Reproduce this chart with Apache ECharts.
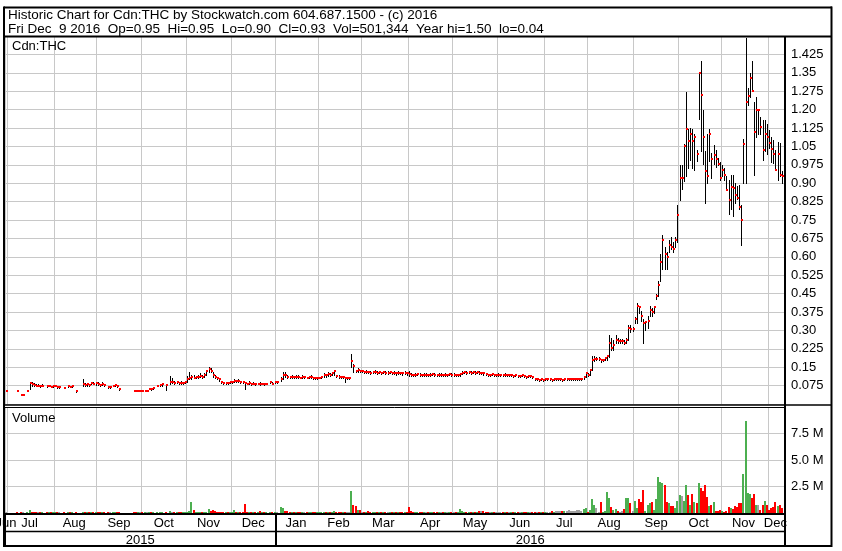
<!DOCTYPE html>
<html>
<head>
<meta charset="utf-8">
<title>Cdn:THC</title>
<script src="https://cdn.jsdelivr.net/npm/echarts@6/dist/echarts.min.js"></script>
<style>
  html, body { margin: 0; padding: 0; background: #fff; }
  #chart { width: 842px; height: 551px; }
</style>
</head>
<body>
<div id="chart"></div>
<script>
// trading calendar (TSX-V)
const firstDay = '2015-06-30'
const lastDay = '2016-12-09'
const padDays = ['2016-12-12']
const holidays = ['2015-07-01', '2015-08-03', '2015-09-07', '2015-10-12', '2015-12-25', '2015-12-28',
  '2016-01-01', '2016-02-15', '2016-03-25', '2016-05-23', '2016-07-01', '2016-08-01', '2016-09-05', '2016-10-10']

const monthNames = ['Jan', 'Feb', 'Mar', 'Apr', 'May', 'Jun', 'Jul', 'Aug', 'Sep', 'Oct', 'Nov', 'Dec']
const priceLabels = ['0.075', '0.15', '0.225', '0.30', '0.375', '0.45', '0.525', '0.60', '0.675', '0.75',
  '0.825', '0.90', '0.975', '1.05', '1.125', '1.20', '1.275', '1.35', '1.425']
const volLabels = ['2.5 M', '5.0 M', '7.5 M']

// daily closes, one per trading day (null = no trade)
const closes = [
  .055,
  null, null, null, null, .052, null, .038, .038, null, .055, .085, .08, .078, .075, .075, .072, .075, null, .072, .075, .07, .072,
  .075, .068, .068, null, .065, null, .072, .07, .072, null, .055, null, null, .082, .078, .08, .078, .085, .082, .085,
  .08, .078, .08, .078, null, .068, .068, .075, .078, .072, .06, null, null, null, null, null, null, .055, .053, .055, .055,
  .053, .055, .055, .062, .06, .064, null, .075, .078, .08, null, .078, null, .09, .09, .086, .088, .086, .085, .086, .088,
  .10, .105, .11, .108, .11, .112, .115, .112, .118, .135, .143, .135, .12, .11, .105, .10, .088, .085, .086, .085, .088,
  .09, .095, .092, .095, .09, .088, .085, .082, .085, .08, .082, .08, .082, .08, .083, .08, .082, null, .09, .082, .09,
  .09, null, .10, .12, .118, .112, .11, .112, .11, .112, .11, .108, .11, .11, .108, .11, .112, .105, .104, .106,
  .108, .11, .12, .118, .122, .12, .125, .135, .115, .112, .11, .112, .105, .105, .105, .175, .155, .135, .138, .135,
  .135, .13, .132, .13, .128, .13, .132, .128, .13, .126, .13, .128, .128, .13, .126, .128, .125, .128, .126, .125, .128, .125,
  .122, .12, .118, .12, .122, .12, .118, .12, .12, .118, .12, .122, .12, .118, .12, .12, .118, .12, .12, .122, .12,
  .12, .118, .12, .122, .128, .13, .128, .13, .128, .13, .128, .13, .128, .128, .125, .122, .12, .12, .122, .12, .12,
  .12, .12, .118, .12, .118, .118, .12, .115, .118, .115, .115, .118, .115, .112, .115, .115, .112, .10, .10, .098, .10, .098,
  .10, .10, .10, .098, .10, .10, .10, .10, .098, .10, .10, .10, .10, .10, .10, .10, .10, .10, .11, .125,
  .12, .137, .18, .185, .185, .185, .178, .18, .187, .196, .25, .227, .24, .26, .255, .255, .255, .25, .262, .31, .305, .305,
  .345, .40, .394, .36, .33, .335, .34, .385, .377, .394, .44, .485, .58, .67, .61, .60, .65, .64, .63, .668, .77,
  .92, .92, 1.05, 1.12, 1.07, 1.10, 1.07, 1.09, 1.02, 1.35, 1.26, 1.09, .95, .93, 1.10, 1.0, 1.015, .998, .98, .92,
  .955, .935, .874, .831, .885, .88, .851, .84, .803, .75, 1.059, 1.23, 1.257, 1.33, 1.277, 1.109, 1.197, 1.197, 1.13, 1.035, 1.10, 1.089,
  1.062, 1.04, 1.019, .955, 1.02, .932, .93
]

const highs = [
  .055,
  null, null, null, null, .052, null, .04, .04, null, .055, .09, .09, .085, .082, .08, .075, .08, null, .075, .078, .075, .075,
  .078, .07, .07, null, .068, null, .075, .072, .075, null, .058, null, null, .10, .085, .085, .08, .09, .09, .09,
  .09, .08, .09, .082, null, .07, .07, .078, .08, .075, .062, null, null, null, null, null, null, .055, .055, .056, .056,
  .055, .056, .056, .064, .062, .066, null, .078, .08, .082, null, .08, null, .113, .105, .095, .095, .09, .093, .09, .092,
  .115, .132, .12, .12, .115, .12, .125, .12, .125, .14, .15, .145, .13, .12, .11, .105, .095, .09, .09, .09, .095,
  .095, .10, .096, .10, .095, .092, .09, .086, .092, .085, .09, .084, .085, .09, .086, .085, .085, null, .095, .088, .093,
  .093, null, .11, .13, .13, .12, .115, .12, .115, .118, .12, .112, .12, .115, .112, .115, .12, .11, .108, .11,
  .112, .115, .125, .122, .13, .125, .128, .14, .12, .118, .115, .116, .11, .108, .11, .205, .165, .14, .145, .14,
  .14, .136, .138, .135, .133, .136, .14, .134, .136, .132, .136, .133, .134, .136, .132, .134, .13, .134, .132, .13, .134, .13,
  .135, .125, .122, .126, .128, .125, .122, .125, .125, .122, .126, .128, .125, .122, .125, .126, .122, .125, .124, .128, .125,
  .125, .122, .124, .124, .135, .136, .134, .135, .134, .136, .133, .135, .134, .132, .13, .126, .124, .124, .126, .124, .124,
  .125, .124, .122, .125, .122, .122, .124, .12, .122, .12, .12, .122, .12, .116, .12, .12, .116, .105, .104, .102, .104, .102,
  .104, .104, .104, .102, .105, .104, .104, .104, .102, .104, .105, .104, .104, .105, .104, .104, .105, .104, .115, .13,
  .125, .14, .196, .195, .19, .19, .185, .185, .19, .20, .28, .27, .26, .28, .27, .265, .265, .26, .27, .32, .32, .315,
  .356, .41, .40, .38, .345, .34, .36, .40, .39, .40, .45, .50, .61, .69, .64, .62, .67, .68, .66, .68, .81,
  .975, .975, 1.06, 1.27, 1.12, 1.125, 1.12, 1.10, 1.035, 1.35, 1.40, 1.20, 1.03, 1.10, 1.12, 1.022, 1.055, 1.035, 1.002, .988,
  .975, .961, .928, .914, .934, .934, .901, .887, .894, .81, 1.082, 1.49, 1.29, 1.35, 1.40, 1.23, 1.25, 1.20, 1.17, 1.156, 1.156, 1.143,
  1.116, 1.089, 1.076, 1.035, 1.069, 1.062, .95
]

const lows = [
  .055,
  null, null, null, null, .052, null, .038, .036, null, .055, .06, .075, .075, .072, .072, .07, .072, null, .07, .072, .068, .07,
  .072, .065, .066, null, .065, null, .07, .068, .07, null, .048, null, null, .075, .075, .075, .075, .08, .08, .078,
  .078, .075, .078, .075, null, .066, .066, .072, .075, .07, .058, null, null, null, null, null, null, .053, .052, .053, .053,
  .052, .053, .053, .06, .058, .06, null, .072, .075, .075, null, .058, null, .08, .085, .083, .085, .083, .082, .083, .085,
  .088, .10, .10, .105, .105, .108, .11, .108, .11, .12, .13, .13, .11, .105, .10, .095, .085, .082, .082, .082, .084,
  .087, .09, .09, .09, .087, .085, .06, .08, .08, .078, .08, .078, .08, .078, .08, .078, .08, null, .085, .08, .085,
  .085, null, .095, .10, .11, .108, .105, .106, .105, .108, .105, .104, .105, .106, .104, .106, .108, .10, .10, .102,
  .105, .106, .112, .112, .116, .115, .118, .12, .11, .108, .105, .108, .09, .10, .10, .15, .13, .13, .13, .13,
  .13, .126, .128, .126, .124, .126, .128, .124, .126, .122, .126, .124, .124, .126, .122, .124, .12, .124, .122, .12, .124, .12,
  .115, .116, .114, .116, .118, .116, .114, .116, .116, .114, .116, .118, .116, .114, .116, .116, .114, .116, .116, .118, .116,
  .116, .114, .116, .116, .122, .125, .124, .125, .124, .125, .124, .125, .124, .124, .12, .118, .116, .116, .118, .116, .116,
  .116, .116, .114, .116, .114, .114, .116, .11, .114, .11, .11, .114, .11, .108, .11, .11, .108, .096, .096, .094, .096, .094,
  .096, .096, .096, .094, .096, .096, .096, .096, .094, .096, .096, .096, .096, .096, .096, .096, .096, .096, .10, .11,
  .115, .12, .14, .175, .178, .178, .172, .175, .18, .18, .19, .22, .22, .25, .248, .248, .25, .245, .25, .26, .295, .298,
  .33, .33, .37, .34, .25, .30, .31, .36, .36, .37, .43, .44, .50, .55, .55, .55, .62, .63, .62, .64, .66,
  .83, .875, .91, .93, .96, .995, .96, .955, .99, 1.16, 1.03, .98, .82, .90, .99, .921, .98, .968, .975, .914,
  .928, .914, .874, .773, .793, .766, .82, .834, .793, .648, .901, .90, 1.217, 1.25, 1.277, .935, 1.089, 1.102, 1.10, .995, 1.03, 1.02,
  1.042, .988, .981, .955, .914, .928, .90
]

// daily volume, thousands of shares
const volumes = [
  20,
  0, 0, 0, 0, 30, 0, 40, 30, 0, 20, 300, 80, 50, 60, 40, 30, 50, 0, 30, 40, 20, 30,
  30, 20, 25, 0, 20, 0, 30, 20, 30, 0, 40, 0, 0, 60, 50, 40, 30, 40, 30, 40,
  50, 40, 60, 30, 0, 40, 30, 30, 40, 20, 50, 0, 0, 0, 0, 0, 0, 30, 20, 30, 20,
  40, 30, 20, 50, 30, 40, 0, 40, 30, 60, 0, 50, 0, 150, 80, 60, 50, 40, 60, 50, 40,
  100, 150, 1000, 300, 80, 60, 80, 120, 60, 100, 350, 150, 250, 200, 80, 60, 50, 40, 60, 50, 80,
  60, 300, 100, 50, 120, 60, 850, 100, 60, 80, 50, 60, 80, 150, 60, 50, 60, 0, 80, 40, 60,
  50, 0, 550, 450, 200, 150, 60, 80, 50, 80, 60, 50, 70, 50, 60, 80, 50, 60, 100, 80,
  60, 80, 100, 60, 80, 60, 80, 150, 60, 50, 60, 50, 40, 60, 60, 2100, 750, 650, 250, 300,
  120, 100, 80, 150, 100, 80, 60, 100, 60, 80, 50, 60, 80, 100, 60, 80, 60, 50, 60, 100, 80, 60,
  600, 150, 80, 100, 60, 80, 60, 50, 60, 80, 60, 50, 60, 50, 60, 80, 50, 60, 50, 80, 60,
  60, 50, 80, 400, 150, 80, 60, 100, 60, 50, 60, 80, 150, 200, 180, 120, 100, 80, 60, 80, 60,
  60, 50, 80, 60, 100, 50, 60, 80, 50, 60, 80, 50, 60, 100, 60, 50, 60, 80, 120, 60, 80, 50,
  60, 80, 100, 150, 120, 200, 180, 220, 200, 150, 180, 250, 200, 150, 200, 300, 250, 200, 350, 500,
  100, 300, 1300, 800, 500, 100, 1000, 100, 150, 2000, 1400, 550, 300, 400, 150, 100, 200, 350, 1400, 1400, 950, 200,
  1100, 500, 1300, 1050, 2200, 150, 800, 950, 1050, 300, 1300, 3350, 2900, 2800, 2600, 1000, 900, 700, 650, 500, 1100,
  1700, 1600, 1100, 2600, 1700, 750, 1800, 1000, 950, 2850, 2400, 2100, 2600, 1500, 650, 800, 1000, 200, 200, 300,
  150, 100, 200, 600, 500, 400, 700, 600, 900, 900, 3700, 8700, 1850, 1800, 1400, 1800, 800, 800, 300, 800, 1100, 800,
  300, 500, 600, 1000, 700, 750, 501
]

const font = '"Liberation Sans", Arial, sans-serif'
const gridColor = '#c8c8c8'
const volUp = '#4caf50'
const volDown = '#ff0000'
const volFlat = '#a0a0a0'

function buildDates () {
  const out = []
  const d = new Date(firstDay + 'T00:00:00Z')
  const end = new Date(lastDay + 'T00:00:00Z')
  while (d <= end) {
    const wd = d.getUTCDay()
    const s = d.toISOString().slice(0, 10)
    if (wd !== 0 && wd !== 6 && !holidays.includes(s)) out.push(s)
    d.setUTCDate(d.getUTCDate() + 1)
  }
  return out.concat(padDays)
}

const dates = buildDates()

// first and middle index of each month / year
function groupMarks (keyLen) {
  const first = new Set()
  const mid = new Set()
  let s = 0
  for (let i = 1; i <= dates.length; i++) {
    if (i === dates.length || dates[i].slice(0, keyLen) !== dates[s].slice(0, keyLen)) {
      first.add(s)
      mid.add(Math.floor((s + i - 1) / 2))
      s = i
    }
  }
  return { first, mid }
}
const months = groupMarks(7)
const years = groupMarks(4)

const priceData = []
closes.forEach((c, i) => {
  if (c != null) priceData.push([i, c, lows[i], highs[i]])
})

// volume colour follows the close against the previous close
let prevClose = null
const volData = []
volumes.forEach((v, i) => {
  const c = closes[i]
  let dir = 0
  if (c != null && prevClose != null) dir = c > prevClose ? 1 : (c < prevClose ? -1 : 0)
  if (c != null) prevClose = c
  if (v) volData.push([i, v * 1000, dir])
})

function renderBar (params, api) {
  const i = api.value(0)
  const hi = api.coord([i, api.value(3)])
  const lo = api.coord([i, api.value(2)])
  const cl = api.coord([i, api.value(1)])
  const x = Math.round(hi[0]) + 0.5
  return {
    type: 'group',
    children: [
      { type: 'line', shape: { x1: x, y1: Math.round(hi[1]), x2: x, y2: Math.round(lo[1]) + 1 }, style: { stroke: '#000', lineWidth: 1 } },
      { type: 'rect', shape: { x: x - 0.5, y: Math.round(cl[1]) - 1, width: 2, height: 2 }, style: { fill: '#ff0000' } }
    ]
  }
}

function renderVol (params, api) {
  const i = api.value(0)
  const top = api.coord([i, api.value(1)])
  const base = api.coord([i, 0])
  const x = Math.round(top[0]) - 1
  const y = Math.min(Math.round(top[1]), Math.round(base[1]) - 1)
  const dir = api.value(2)
  return {
    type: 'rect',
    shape: { x, y, width: 2, height: Math.round(base[1]) - y },
    style: { fill: dir > 0 ? volUp : (dir < 0 ? volDown : volFlat) }
  }
}

function frameLine (x1, y1, x2, y2, w) {
  return { type: 'line', z: 100, silent: true, shape: { x1, y1, x2, y2 }, style: { stroke: '#000', lineWidth: w } }
}

const textStyle = { fontFamily: font, fontSize: 13, fontWeight: 'normal', color: '#000', lineHeight: 14 }

const option = {
  animation: false,
  backgroundColor: '#fff',
  title: [
    {
      text: 'Historic Chart for Cdn:THC by Stockwatch.com 604.687.1500 - (c) 2016\n' +
        'Fri Dec  9 2016  Op=0.95  Hi=0.95  Lo=0.90  Cl=0.93  Vol=501,344  Year hi=1.50  lo=0.04',
      left: 8, top: 8, padding: 0,
      textStyle: Object.assign({}, textStyle, { fontSize: 13.5, lineHeight: 14 })
    },
    { text: 'Cdn:THC', left: 12, top: 39, padding: 0, textStyle },
    { text: 'Volume', left: 12, top: 411, padding: 0, textStyle }
  ],
  grid: [
    { left: 5, right: 57, top: 36, height: 368, outerBoundsMode: 'none' },
    { left: 5, right: 57, top: 407, height: 106, outerBoundsMode: 'none' }
  ],
  xAxis: [
    {
      type: 'category', gridIndex: 0, data: dates,
      axisLine: { show: false }, axisTick: { show: false }, axisLabel: { show: false },
      splitLine: { show: true, interval: (i) => months.first.has(i), lineStyle: { color: gridColor, width: 1 } }
    },
    {
      type: 'category', gridIndex: 1, data: dates, position: 'bottom',
      axisLine: { show: false }, axisTick: { show: false },
      axisLabel: {
        interval: (i) => months.mid.has(i),
        formatter: (v) => monthNames[+v.slice(5, 7) - 1],
        margin: 4, color: '#000', fontFamily: font, fontSize: 13
      },
      splitLine: { show: true, interval: (i) => months.first.has(i), lineStyle: { color: gridColor, width: 1 } }
    },
    {
      type: 'category', gridIndex: 1, data: dates, position: 'bottom',
      axisLine: { show: false },
      axisTick: { show: true, interval: (i) => years.first.has(i), length: 33, lineStyle: { color: '#000', width: 2 } },
      axisLabel: {
        interval: (i) => years.mid.has(i),
        formatter: (v) => v.slice(0, 4),
        margin: 21, color: '#000', fontFamily: font, fontSize: 13
      },
      splitLine: { show: false }
    }
  ],
  yAxis: [
    {
      type: 'value', gridIndex: 0, position: 'right', min: 0, max: 1.5, interval: 0.075,
      axisLine: { show: false }, axisTick: { show: false },
      axisLabel: {
        margin: 6, color: '#000', fontFamily: font, fontSize: 13,
        formatter: (v) => priceLabels[Math.round(v / 0.075) - 1] || ''
      },
      splitLine: { show: true, lineStyle: { color: gridColor, width: 1 } }
    },
    {
      type: 'value', gridIndex: 1, position: 'right', min: 0, max: 10e6, interval: 2.5e6,
      axisLine: { show: false }, axisTick: { show: false },
      axisLabel: {
        margin: 6, color: '#000', fontFamily: font, fontSize: 13,
        formatter: (v) => volLabels[Math.round(v / 2.5e6) - 1] || ''
      },
      splitLine: { show: true, lineStyle: { color: gridColor, width: 1 } }
    }
  ],
  series: [
    {
      type: 'custom', name: 'Cdn:THC', xAxisIndex: 0, yAxisIndex: 0,
      data: priceData, encode: { x: 0, y: [1, 2, 3] }, renderItem: renderBar, clip: true
    },
    {
      type: 'custom', name: 'Volume', xAxisIndex: 1, yAxisIndex: 1,
      data: volData, encode: { x: 0, y: 1 }, renderItem: renderVol, clip: true
    }
  ],
  graphic: [
    frameLine(4, 7.5, 832, 7.5, 2),
    frameLine(4, 546, 832, 546, 2),
    frameLine(4, 6.5, 4, 547, 2),
    frameLine(831.5, 6.5, 831.5, 547, 2),
    frameLine(4, 36.5, 832, 36.5, 2),
    frameLine(785, 36, 785, 547, 2),
    frameLine(4, 405, 832, 405, 1.5),
    frameLine(4, 407.5, 785, 407.5, 1),
    frameLine(4, 514, 785, 514, 2),
    frameLine(4, 531.5, 785, 531.5, 1.5)
  ]
}

const chart = echarts.init(document.getElementById('chart'), null, { renderer: 'canvas' })
chart.setOption(option)
</script>
</body>
</html>
